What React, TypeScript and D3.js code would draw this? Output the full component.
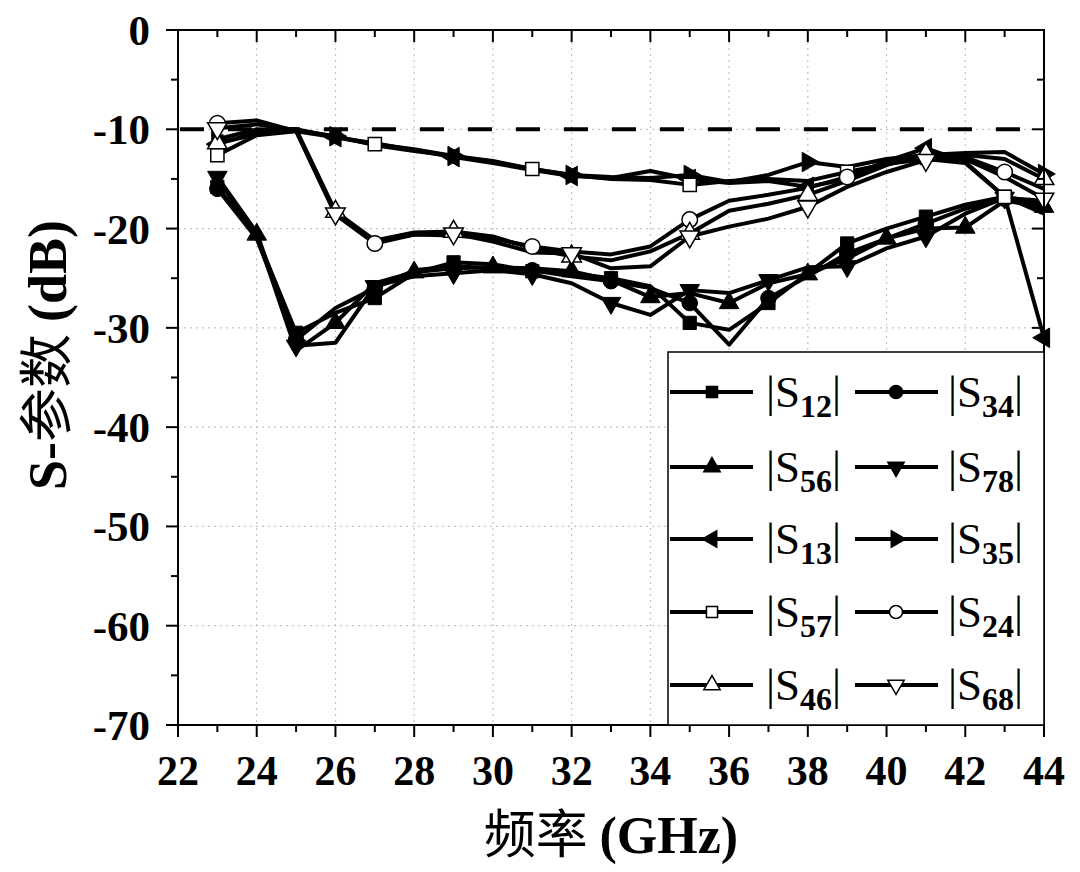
import React from "react";
import * as d3 from "d3";

const freqs = [23, 24, 25, 26, 27, 28, 29, 30, 31, 32, 33, 34, 35, 36, 37, 38, 39, 40, 41, 42, 43, 44];

// lower group
const s12 = [-15.8, -20.8, -30.5, -28.5, -27.0, -24.5, -23.4, -23.6, -24.3, -24.5, -25.0, -25.8, -29.5, -30.2, -27.5, -24.5, -21.5, -20.0, -18.8, -17.6, -16.8, -17.5];
const s34 = [-16.0, -21.0, -31.2, -28.0, -26.0, -24.2, -23.8, -24.0, -24.2, -24.8, -25.3, -26.0, -27.5, -31.7, -27.0, -24.8, -22.5, -21.0, -19.5, -18.0, -17.0, -18.0];
const s56 = [-15.0, -20.6, -32.3, -29.5, -25.5, -24.4, -24.0, -23.9, -24.0, -24.3, -25.2, -26.9, -26.5, -27.5, -25.5, -24.6, -23.0, -21.0, -20.0, -19.9, -17.2, -17.8];
const s78 = [-14.8, -20.4, -31.8, -31.5, -25.8, -24.8, -24.5, -24.2, -24.6, -25.5, -27.5, -28.7, -26.2, -26.5, -25.2, -23.9, -23.8, -22.0, -20.8, -18.5, -16.9, -17.2];
// upper group
const s13 = [-11.5, -10.3, -10.0, -10.8, -11.4, -12.1, -12.8, -13.4, -14.1, -14.7, -14.9, -14.2, -15.0, -15.4, -15.2, -15.8, -15.0, -13.2, -11.9, -13.3, -16.8, -31.0];
const s35 = [-11.0, -10.0, -10.1, -10.7, -11.6, -12.2, -12.7, -13.2, -14.0, -14.6, -14.8, -14.9, -14.6, -15.3, -14.6, -13.3, -13.8, -13.0, -12.6, -12.4, -12.3, -14.5];
const s57 = [-12.6, -10.6, -10.2, -10.8, -11.5, -12.0, -12.7, -13.3, -14.0, -14.6, -15.0, -15.1, -15.6, -15.2, -15.0, -15.2, -14.3, -13.5, -13.0, -13.4, -16.8, -18.5];
// middle group
const s24 = [-9.4, -9.1, -10.2, -18.6, -21.5, -20.6, -20.7, -21.0, -21.8, -22.3, -22.6, -21.8, -19.1, -17.2, -16.6, -15.9, -14.8, -13.2, -12.8, -12.8, -14.3, -16.0];
const s46 = [-11.4, -10.5, -10.0, -18.3, -21.2, -20.4, -20.3, -20.8, -22.0, -22.8, -23.2, -22.3, -20.5, -18.2, -17.5, -16.6, -15.2, -13.6, -12.5, -12.6, -13.0, -15.0];
const s68 = [-9.9, -9.5, -10.1, -18.5, -21.3, -20.6, -20.5, -21.3, -22.4, -22.5, -24.0, -23.8, -20.8, -19.8, -19.0, -17.8, -15.8, -14.3, -13.1, -13.0, -14.8, -17.0];

const seriesNames = ["12", "34", "56", "78", "13", "35", "57", "24", "46", "68"];
const seriesValues = [s12, s34, s56, s78, s13, s35, s57, s24, s46, s68];
const seriesShapes = ["square", "circle", "up", "down", "left", "right", "square", "circle", "up", "down"];
const seriesFilled = [true, true, true, true, true, true, false, false, false, false];
const markerStart = [0, 0, 1, 0, 0, 0, 0, 0, 0, 0];
const markerStep = [2, 2, 2, 2, 3, 3, 4, 4, 3, 3];

const xTicks = [22, 24, 26, 28, 30, 32, 34, 36, 38, 40, 42, 44];
const yTicks = [0, -10, -20, -30, -40, -50, -60, -70];
const thresholdDb = -10;

const L = 178, R = 1044, T = 30, B = 725;

const x = d3.scaleLinear().domain([22, 44]).range([L, R]);
const y = d3.scaleLinear().domain([-70, 0]).range([B, T]);

function symbolPath(shape: string, scale = 1) {
  if (shape === "square") return d3.symbol().type(d3.symbolSquare).size(175 * scale)()!;
  if (shape === "circle") return d3.symbol().type(d3.symbolCircle).size(190 * scale)()!;
  return d3.symbol().type(d3.symbolTriangle).size(165 * scale)()!;
}
function rot(shape: string) {
  if (shape === "down") return 180;
  if (shape === "left") return -90;
  if (shape === "right") return 90;
  return 0;
}

const serif = "'Liberation Serif', 'Times New Roman', serif";
const cjk = "'Noto Sans CJK SC', sans-serif";

export default function App() {
  const line = d3.line<number>().x((_, i) => x(freqs[i])).y((v) => y(v));
  const minorX = d3.range(22, 44.01, 1);
  const minorY = d3.range(-70, 0.01, 5);

  const legendRows = [392, 467, 539, 612, 685];
  const legendCols = [{ l: 670, r: 753, m: 712, t: 766 }, { l: 855, r: 938, m: 896, t: 948 }];

  return (
    <svg width={1080} height={872} style={{ position: "absolute", left: 0, top: 0, background: "#fff" }}>
      <rect x={0} y={0} width={1080} height={872} fill="#fff" />
      {/* grid */}
      {xTicks.slice(1, -1).map((t) => (
        <line key={"gx" + t} x1={x(t)} x2={x(t)} y1={T} y2={B} stroke="#c4c4c4" strokeWidth={1.2} strokeDasharray="2,4" />
      ))}
      {yTicks.slice(1, -1).map((t) => (
        <line key={"gy" + t} x1={L} x2={R} y1={y(t)} y2={y(t)} stroke="#c4c4c4" strokeWidth={1.2} strokeDasharray="2,4" />
      ))}
      {/* threshold */}
      <line x1={L + 2} x2={R} y1={y(thresholdDb)} y2={y(thresholdDb)} stroke="#000" strokeWidth={4} strokeDasharray="24,24" />
      {/* lines */}
      {seriesValues.map((vals, si) => (
        <path key={"l" + si} d={line(vals)!} fill="none" stroke="#000" strokeWidth={4} strokeLinejoin="round" />
      ))}
      {/* markers */}
      {seriesValues.map((vals, si) =>
        vals.map((v, i) =>
          i >= markerStart[si] && (i - markerStart[si]) % markerStep[si] === 0 ? (
            <path
              key={"m" + si + "-" + i}
              d={symbolPath(seriesShapes[si])}
              transform={`translate(${x(freqs[i])},${y(v)}) rotate(${rot(seriesShapes[si])})`}
              fill={seriesFilled[si] ? "#000" : "#fff"}
              stroke="#000"
              strokeWidth={seriesFilled[si] ? 1 : 1.5}
            />
          ) : null
        )
      )}
      {/* frame */}
      <rect x={L} y={T} width={R - L} height={B - T} fill="none" stroke="#000" strokeWidth={2} />
      {/* ticks bottom (outward) & top (inward) */}
      {minorX.map((t) => {
        const major = Math.abs(t % 2) < 0.01;
        const len = major ? 12 : 7;
        return (
          <g key={"tx" + t}>
            <line x1={x(t)} x2={x(t)} y1={B} y2={B + len} stroke="#000" strokeWidth={2} />
            <line x1={x(t)} x2={x(t)} y1={T} y2={T + len} stroke="#000" strokeWidth={2} />
          </g>
        );
      })}
      {minorY.map((t) => {
        const major = Math.abs(t % 10) < 0.01;
        const len = major ? 12 : 7;
        return (
          <g key={"ty" + t}>
            <line x1={L - len} x2={L} y1={y(t)} y2={y(t)} stroke="#000" strokeWidth={2} />
            <line x1={R - len} x2={R} y1={y(t)} y2={y(t)} stroke="#000" strokeWidth={2} />
          </g>
        );
      })}
      {/* tick labels */}
      {xTicks.map((t) => (
        <text key={"xl" + t} x={x(t)} y={785} textAnchor="middle" fontFamily={serif} fontWeight="bold" fontSize={42}>
          {t}
        </text>
      ))}
      {yTicks.map((t) => (
        <text key={"yl" + t} x={150} y={y(t) + 15} textAnchor="end" fontFamily={serif} fontWeight="bold" fontSize={43}>
          {t}
        </text>
      ))}
      {/* axis titles */}
      <text x={611} y={853} textAnchor="middle" fontSize={52}>
        <tspan fontFamily={cjk}>频率 </tspan>
        <tspan fontFamily={serif} fontWeight="bold">(GHz)</tspan>
      </text>
      <text transform={`translate(66,355) rotate(-90)`} textAnchor="middle" fontSize={54}>
        <tspan fontFamily={serif} fontWeight="bold">S-</tspan>
        <tspan fontFamily={cjk}>参数 </tspan>
        <tspan fontFamily={serif} fontWeight="bold">(dB)</tspan>
      </text>
      {/* legend */}
      <rect x={668} y={352} width={R - 668} height={B - 352} fill="#fff" stroke="#000" strokeWidth={1.5} />
      {seriesNames.map((name, si) => {
        const row = Math.floor(si / 2);
        const col = legendCols[si % 2];
        const ly = legendRows[row];
        return (
          <g key={"lg" + si}>
            <line x1={col.l} x2={col.r} y1={ly} y2={ly} stroke="#000" strokeWidth={4} />
            <path
              d={symbolPath(seriesShapes[si], 0.7)}
              transform={`translate(${col.m},${ly}) rotate(${rot(seriesShapes[si])})`}
              fill={seriesFilled[si] ? "#000" : "#fff"}
              stroke="#000"
              strokeWidth={1.5}
            />
            <text x={col.t} y={ly + 15} fontFamily={serif} fontSize={45}>
              |S
              <tspan fontWeight="bold" fontSize={32} dy={10}>{name}</tspan>
              <tspan dy={-10} fontSize={45}>|</tspan>
            </text>
          </g>
        );
      })}
    </svg>
  );
}
